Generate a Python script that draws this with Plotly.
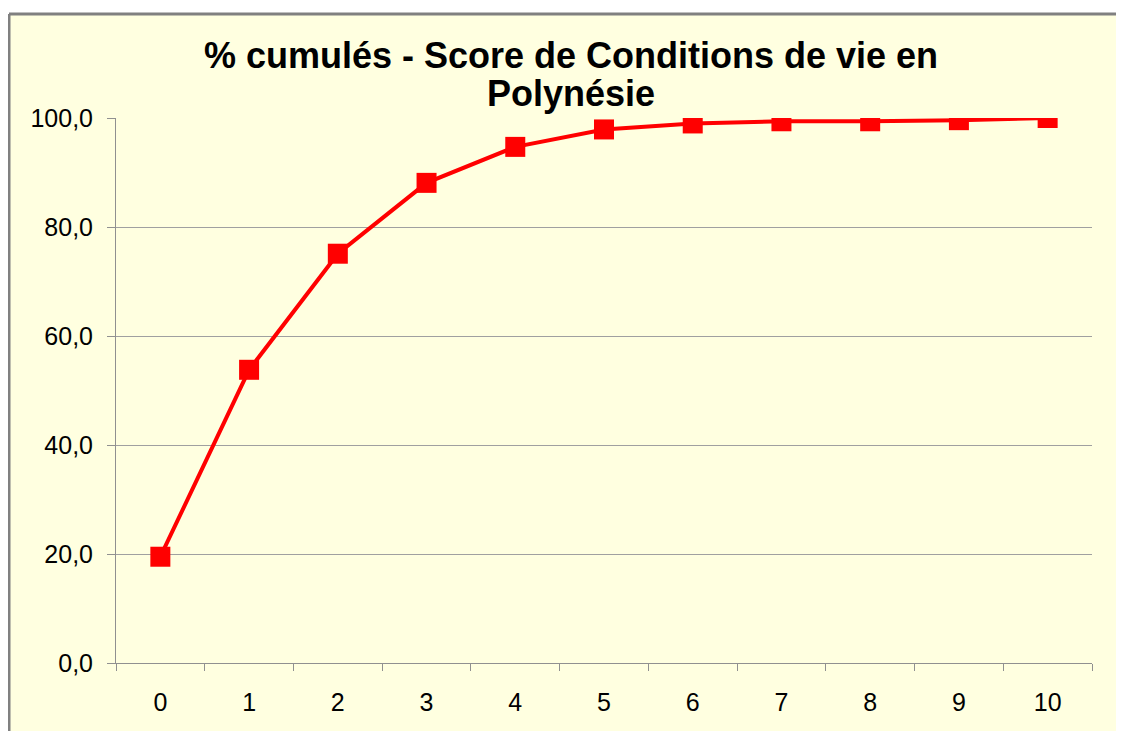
import plotly.graph_objects as go

scores = ["0", "1", "2", "3", "4", "5", "6", "7", "8", "9", "10"]
cumulative_pct = [19.5, 53.8, 75.1, 88.1, 94.7, 97.9, 99.0, 99.4, 99.4, 99.6, 100.0]
y_ticks = [0, 20, 40, 60, 80, 100]

# the page body has an 8px margin, so the figure is drawn 8px in from the corner
W, H = 1116, 723
L, R, T, B = 108, 32, 110, 68
pw, ph = W - L - R, H - T - B

def px_x(p):
    return (p - L) / pw

def px_y(p):
    return (H - B - p) / ph

BG = "#FFFFE0"
BORDER = "#808080"
FONT = "Liberation Sans, Arial, sans-serif"

fig = go.Figure()
fig.add_trace(go.Scatter(
    x=scores, y=cumulative_pct, mode="lines+markers",
    line=dict(color="#FF0000", width=4),
    marker=dict(symbol="square", size=20, color="#FF0000"),
    showlegend=False,
))

fig.update_layout(
    width=W, height=H,
    margin=dict(l=L, r=R, t=T, b=B, autoexpand=False),
    paper_bgcolor="white",
    plot_bgcolor="rgba(0,0,0,0)",
    separators=", ",
    font=dict(family=FONT, color="black"),
    title=dict(
        text='<span style="font-size:36px"><b>% cumulés - Score de Conditions de vie en<br>Polynésie</b></span>',
        font=dict(family=FONT, size=29, color="black"),
        x=563 / W, xanchor="center", xref="container",
        y=1 - 60 / H, yanchor="top", yref="container",
    ),
    shapes=[
        dict(type="rect", xref="paper", yref="paper", layer="below",
             x0=px_x(1), x1=px_x(1140), y0=px_y(760), y1=px_y(6),
             fillcolor=BG, line=dict(width=0)),
        dict(type="line", xref="paper", yref="paper", layer="below",
             x0=px_x(1), x1=px_x(1140), y0=px_y(6), y1=px_y(6),
             line=dict(color=BORDER, width=3)),
        dict(type="line", xref="paper", yref="paper", layer="below",
             x0=px_x(1), x1=px_x(1), y0=px_y(6), y1=px_y(760),
             line=dict(color=BORDER, width=3)),
    ],
)

fig.update_xaxes(
    type="category", showgrid=False, showline=True, linecolor="#909090", linewidth=1,
    ticks="outside", tickson="boundaries", ticklen=7, tickcolor="#909090",
    tickfont=dict(size=25, color="black"), ticklabelstandoff=17,
    range=[-0.5, 10.5], zeroline=False,
)
fig.update_yaxes(
    range=[0, 100], tickvals=y_ticks, tickformat=".1f",
    showgrid=True, gridcolor="#A0A0A0", gridwidth=1,
    showline=True, linecolor="#909090", linewidth=1,
    ticks="outside", ticklen=8, tickcolor="#909090",
    tickfont=dict(size=25, color="black"), ticklabelstandoff=9,
    zeroline=False,
)

fig.write_html("out.html")
